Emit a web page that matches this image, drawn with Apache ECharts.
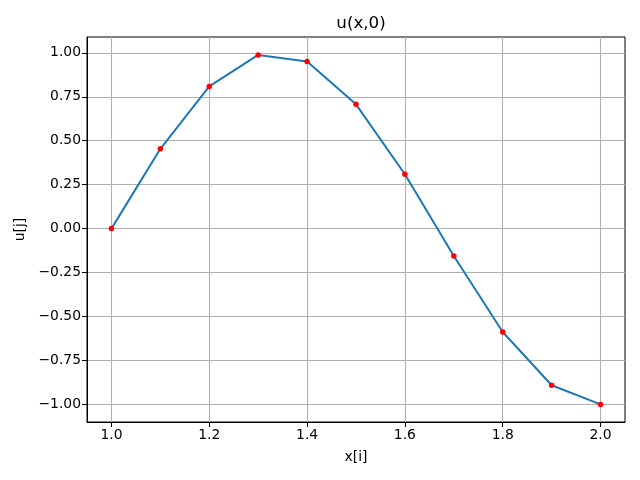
<!DOCTYPE html>
<html>
<head>
<meta charset="utf-8">
<script src="https://cdn.jsdelivr.net/npm/echarts@6/dist/echarts.min.js"></script>
<style>html,body{margin:0;padding:0;background:#fff}#c{width:640px;height:480px}</style>
</head>
<body>
<div id="c"></div>
<script>
var xValues = [1.0, 1.1, 1.2, 1.3, 1.4, 1.5, 1.6, 1.7, 1.8, 1.9, 2.0];
var uValues = [0.0, 0.454, 0.809, 0.988, 0.951, 0.707, 0.309, -0.156, -0.588, -0.891, -1.0];
var xTicks = [1.0, 1.2, 1.4, 1.6, 1.8, 2.0];
var yTicks = [-1.0, -0.75, -0.5, -0.25, 0.0, 0.25, 0.5, 0.75, 1.0];
var titleText = 'u(x,0)';
var xName = 'x[i]';
var yName = 'u[j]';

var pts = xValues.map(function (x, i) { return [x, uValues[i]]; });
var font = 'DejaVu Sans';
var chart = echarts.init(document.getElementById('c'), null, {renderer: 'canvas'});
function fmt(v, d) { return v.toFixed(d).replace('-', '\u2212'); }
chart.setOption({
  animation: false,
  backgroundColor: '#fff',
  title: {
    text: titleText, left: 356, top: 10, textAlign: 'center',
    textStyle: {fontFamily: font, fontSize: 16.7, fontWeight: 'normal', color: '#000'}
  },
  grid: {left: 87, right: 15, top: 37, bottom: 58, containLabel: false,
         show: true, borderColor: '#000', borderWidth: 1},
  xAxis: {
    type: 'value', min: 0.95, max: 2.05,
    name: xName, nameLocation: 'middle', nameGap: 28,
    nameTextStyle: {fontFamily: font, fontSize: 13.9, color: '#000'},
    axisLine: {show: true, onZero: false, lineStyle: {color: '#000', width: 1}},
    axisTick: {show: true, length: 5, customValues: xTicks, lineStyle: {color: '#000', width: 1}},
    axisLabel: {customValues: xTicks, fontFamily: font, fontSize: 13.9, color: '#000', margin: 6,
                formatter: function (v) { return fmt(v, 1); }},
    splitLine: {show: true, lineStyle: {color: '#b0b0b0', width: 1.1}}
  },
  yAxis: {
    type: 'value', min: -1.1, max: 1.09,
    name: yName, nameLocation: 'middle', nameGap: 54, nameRotate: 90,
    nameTextStyle: {fontFamily: font, fontSize: 13.9, color: '#000'},
    axisLine: {show: true, onZero: false, lineStyle: {color: '#000', width: 1}},
    axisTick: {show: true, length: 5, customValues: yTicks, lineStyle: {color: '#000', width: 1}},
    axisLabel: {customValues: yTicks, fontFamily: font, fontSize: 13.9, color: '#000', margin: 6,
                formatter: function (v) { return fmt(v, 2); }},
    splitLine: {show: true, lineStyle: {color: '#b0b0b0', width: 1.1}}
  },
  series: [{
    type: 'line', data: pts, symbol: 'circle', symbolSize: 5.5,
    lineStyle: {color: '#1f77b4', width: 2},
    itemStyle: {color: '#ff0000', borderWidth: 0},
    emphasis: {disabled: true}
  }]
});
</script>
</body>
</html>
